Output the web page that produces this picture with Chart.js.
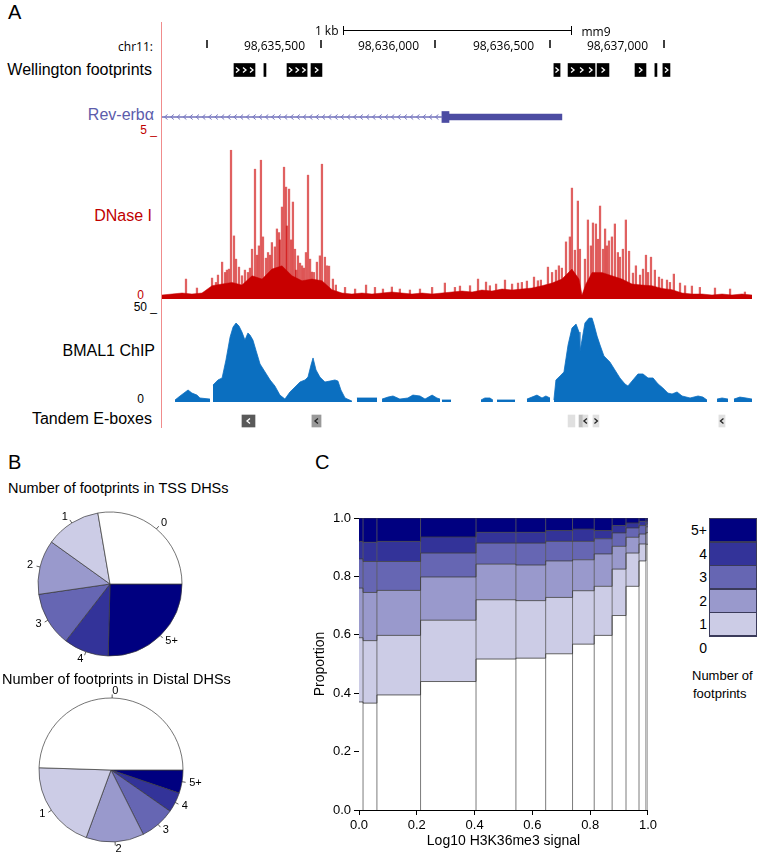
<!DOCTYPE html>
<html><head><meta charset="utf-8">
<script src="https://cdn.jsdelivr.net/npm/chart.js@4.4.1/dist/chart.umd.min.js"></script>
<style>
html,body{margin:0;padding:0;background:#fff}
body{position:relative;width:759px;height:855px;overflow:hidden;font-family:"Liberation Sans",Arial,Helvetica,sans-serif;color:#000}
.t{position:absolute;white-space:nowrap;line-height:1;transform:translateY(-50%)}
.box{position:absolute;box-sizing:border-box}
canvas{position:absolute;display:block}
</style></head><body>
<!-- Panel A labels -->
<div class="t" style="left:8px;top:12px;font-size:20px">A</div>
<div class="t" style="right:606px;top:47px;font-family:'Open Sans';font-size:12px">chr11:</div>
<div class="t" style="right:607px;top:70px;font-size:16px">Wellington footprints</div>
<div class="t" style="right:605px;top:115px;font-size:16px;color:#5c5cab">Rev-erbα</div>
<div class="t" style="right:602px;top:130px;font-size:12px;color:#c00000">5 _</div>
<div class="t" style="right:607px;top:216px;font-size:16px;color:#c00000">DNase I</div>
<div class="t" style="right:615px;top:295px;font-size:12px;color:#c00000">0</div>
<div class="t" style="right:602px;top:307px;font-size:12px">50 _</div>
<div class="t" style="right:604px;top:351px;font-size:16px">BMAL1 ChIP</div>
<div class="t" style="right:615px;top:399px;font-size:12px">0</div>
<div class="t" style="right:607px;top:419px;font-size:16px">Tandem E-boxes</div>
<div class="box" style="left:161px;top:22px;width:1px;height:406px;background:#f08c8c"></div>

<canvas id="cRuler" width="590" height="36" style="left:162px;top:20px"></canvas>
<canvas id="cFoot" width="590" height="20" style="left:162px;top:60px"></canvas>
<canvas id="cGene" width="590" height="24" style="left:162px;top:105px"></canvas>
<canvas id="cDnase" width="590" height="166" style="left:162px;top:133px"></canvas>
<canvas id="cBmal" width="590" height="91" style="left:162px;top:311px"></canvas>
<canvas id="cEbox" width="590" height="22" style="left:162px;top:410px"></canvas>

<!-- Panel B -->
<div class="t" style="left:8px;top:462px;font-size:20px">B</div>
<div class="t" style="left:8px;top:488px;font-size:14.5px">Number of footprints in TSS DHSs</div>
<canvas id="cPie1" width="200" height="176" style="left:10px;top:500px"></canvas>
<div class="t" style="left:2px;top:679px;font-size:14.5px">Number of footprints in Distal DHSs</div>
<canvas id="cPie2" width="200" height="176" style="left:11px;top:686px"></canvas>

<!-- Panel C -->
<div class="t" style="left:315px;top:462px;font-size:20px">C</div>
<canvas id="cMosaic" width="360" height="355" style="left:300px;top:500px"></canvas>
<div id="legendC"></div>
<div class="t" style="left:692px;top:675px;font-size:13px">Number of</div>
<div class="t" style="left:693px;top:693px;font-size:13px">footprints</div>

<script>
// ================= DATA =================
// Panel A: genomic window (mm9 chr11), positions stored as bp offsets from regionStart
const regionStart = 98634804;
const regionLength = 2582;
const rulerTicks = [98635000, 98635500, 98636000, 98636500, 98637000];
const rulerTickLabels = ['', '98,635,500', '98,636,000', '98,636,500', '98,637,000'];
const scaleBarStart = 792;
const scaleBarLength = 1000;
const scaleBarLabel = '1 kb';
const assemblyLabel = 'mm9';

const footprintStart = [315, 446, 547, 652, 1715, 1777, 1904, 2070, 2157, 2192];
const footprintEnd   = [407, 455, 635, 700, 1742, 1895, 1956, 2118, 2166, 2223];

const geneIntron = [0, 1225];
const geneCds = [1225, 1256];
const geneUtr = [1256, 1750];

const dnaseBasePos = [0,44,88,131,175,219,263,306,350,394,438,481,525,569,613,656,700,744,788,831,875,919,963,1006,1050,1094,1138,1182,1225,1269,1313,1357,1400,1444,1488,1532,1575,1619,1663,1707,1750,1794,1825,1838,1855,1882,1925,1969,2013,2057,2100,2144,2188,2232,2276,2319,2363,2407,2451,2494,2538,2582];
const dnaseBaseVal = [0.12,0.15,0.18,0.15,0.18,0.40,0.45,0.50,0.42,0.70,0.60,0.90,1.00,0.70,0.55,0.60,0.55,0.28,0.18,0.15,0.18,0.15,0.18,0.21,0.18,0.15,0.18,0.15,0.18,0.21,0.24,0.21,0.27,0.24,0.30,0.27,0.30,0.33,0.40,0.48,0.60,0.90,0.60,0.12,0.45,0.80,0.80,0.70,0.60,0.45,0.42,0.40,0.32,0.28,0.18,0.15,0.15,0.12,0.15,0.12,0.15,0.12];
const dnasePeakPos = [105,153,219,236,245,263,276,284,293,302,315,324,337,350,363,376,385,394,407,416,424,433,442,455,464,473,481,494,503,512,516,525,534,543,547,556,565,573,582,587,595,604,613,621,630,639,648,656,665,678,691,700,713,722,731,748,761,801,845,893,932,967,1006,1041,1085,1129,1182,
  1238,1282,1304,1348,1383,1418,1435,1462,1501,1532,1558,1575,1597,1628,1645,1658,1689,1707,1724,1737,1750,1768,1785,1794,1807,1820,1829,1851,1864,1877,1886,1899,1908,1917,1930,1939,1947,1956,1969,1982,1995,2004,2017,2030,2044,2061,2074,2092,2105,2118,2127,2140,2157,2175,2188,2210,2223,2240,2267,2289,2319,2354,2420,2486,2551];
const dnasePeakVal = [0.60,0.33,0.63,0.50,0.72,1.11,0.80,0.87,0.90,4.48,1.90,1.20,0.96,0.70,0.87,0.80,0.93,1.50,3.91,1.32,1.60,4.18,1.87,1.23,1.40,1.32,1.70,1.57,2.11,2.00,1.78,2.77,3.97,3.37,2.20,3.31,1.78,2.92,1.50,0.87,1.30,1.08,1.00,0.93,1.40,3.73,1.20,0.81,0.80,1.11,1.30,4.06,1.26,1.00,0.99,0.60,0.42,0.35,0.30,0.42,0.35,0.30,0.36,0.30,0.27,0.30,0.35,
  0.48,0.35,0.39,0.40,0.60,0.51,0.40,0.45,0.57,0.45,0.48,0.50,0.54,0.66,0.55,0.57,0.96,0.80,0.87,1.00,0.93,1.72,1.87,3.34,1.47,2.95,1.50,1.20,2.38,1.60,2.29,2.26,1.80,2.80,1.50,2.11,1.60,1.75,1.87,2.26,1.40,1.26,1.50,2.38,1.44,0.78,1.00,0.72,0.90,1.32,0.80,1.26,0.87,0.66,0.60,0.57,0.50,0.75,0.48,0.40,0.39,0.35,0.33,0.30,0.21];

// BMAL1 ChIP signal (null = no data)
const bmalPos = [57,79,114,131,153,166,210, 216,
  223,245,263,280,298,311,324,337,350,363,376,385,398,411,429,451,473,494,516,538,560,582,604,626,639,652,661,674,691,713,735,757,770,783,801,831, 842,
  853,941, 952,
  963,989,1011,1041,1076,1098,1129,1151,1182,1203,1217, 1221,
  1225,1265, 1330,
  1396,1413,1435,1448, 1457,
  1466,1545, 1570,
  1597,1619,1641,1663,1680,1698, 1706,
  1715,1724,1742,1759,1777,1794,1812,1825,1829,1838,1851,1869,1882,1890,1904,1917,1934,1960,1982,2004,2026,2039,2061,2083,2105,2127,2149,2171,2192,2214,2232,2254,2276,2311,2346,2367,2385, 2400,
  2429,2451,2477, 2490,
  2503,2529,2556,2582];
const bmalVal = [1.1,3.3,6.6,4.9,3.8,2.2,1.6, null,
  9.3,12.1,13.2,23.1,35.7,41.2,43.4,41.7,38.4,34.0,37.9,36.8,34.0,28.5,20.9,16.5,12.1,8.8,3.8,1.6,5.5,8.2,11.0,12.1,13.7,20.3,24.2,17.6,13.7,11.0,11.5,12.1,11.5,6.6,2.2,0.5, null,
  2.2,2.2, null,
  1.6,2.7,3.3,1.6,2.2,3.8,3.3,1.6,3.8,2.2,1.6, null,
  1.1,1.1, null,
  1.1,2.2,2.2,1.1, null,
  1.1,1.1, null,
  1.6,2.7,3.8,2.2,3.3,2.2, null,
  1.1,12.1,14.3,16.5,31.3,40.6,42.8,38.4,27.5,34.0,43.4,46.1,46.1,42.8,36.2,31.3,25.3,22.0,17.6,13.2,9.9,8.8,12.1,15.4,15.4,13.2,13.2,9.9,7.7,4.9,4.4,5.5,3.3,2.2,3.3,2.7,1.1, null,
  1.6,2.2,1.6, null,
  1.6,2.7,2.2,1.6];

const eboxStart  = [350, 656, 1777, 1825, 1842, 1886, 2437];
const eboxEnd    = [407, 696, 1807, 1842, 1864, 1912, 2464];
const eboxStrand = ['-', '-', '', '', '-', '+', '-'];
const eboxShade  = [0.65, 0.40, 0.12, 0.25, 0.12, 0.12, 0.12];

// Panel B: share of DHSs (%) by number of footprints, classes 0,1,2,3,4,5+
const footprintClasses = ['0', '1', '2', '3', '4', '5+'];
const footprintColors = ['#FFFFFF', '#CCCCE6', '#9999CC', '#6666B3', '#333399', '#000080'];
const tssShares = [27.7, 12.4, 12.2, 12.2, 10.1, 25.4];
const distalShares = [49.5, 19.9, 13.0, 7.9, 4.5, 5.2];

// Panel C: spineplot columns (cumulative x breaks) and per-class proportions
const colBreaks = [0, 0.014, 0.062, 0.213, 0.405, 0.543, 0.646, 0.739, 0.814, 0.876, 0.924, 0.969, 0.993, 1.0];
const share0     = [.370,.366,.394,.440,.517,.520,.535,.568,.598,.666,.766,.853,.910];
const share1     = [.220,.214,.204,.210,.203,.197,.193,.183,.168,.159,.114,.058,.040];
const share2     = [.170,.165,.154,.148,.122,.122,.125,.106,.111,.078,.054,.034,.020];
const share3     = [.100,.106,.099,.082,.072,.075,.067,.063,.052,.046,.032,.029,.010];
const share4     = [.060,.066,.069,.055,.037,.037,.037,.042,.028,.025,.017,.015,.010];
const share5plus = [.080,.083,.080,.065,.049,.049,.043,.038,.043,.026,.017,.011,.010];
const yAxisTitle = 'Proportion';
const xAxisTitle = 'Log10 H3K36me3 signal';

// ================= CHARTS =================
const F = '"Liberation Sans", Arial, Helvetica, sans-serif';
Chart.defaults.font.family = F;
const at = o => regionStart + o;
const base = { responsive:false, animation:false, events:[], plugins:{legend:{display:false}, tooltip:{enabled:false}} };
const trackScales = y => ({ x:{type:'linear', min:regionStart, max:regionStart+regionLength, display:false, offset:false}, y });

// ruler
const rulerPlugin = { id:'ruler', afterDraw(chart){
  const ctx = chart.ctx, xs = chart.scales.x;
  ctx.save(); ctx.strokeStyle = '#000'; ctx.fillStyle = '#000'; ctx.lineWidth = 1;
  const b1 = Math.round(xs.getPixelForValue(at(scaleBarStart))) + 0.5;
  const b2 = Math.round(xs.getPixelForValue(at(scaleBarStart + scaleBarLength))) + 0.5;
  ctx.beginPath(); ctx.moveTo(b1,10.5); ctx.lineTo(b2,10.5);
  ctx.moveTo(b1,6); ctx.lineTo(b1,15); ctx.moveTo(b2,6); ctx.lineTo(b2,15); ctx.stroke();
  ctx.font = '12px "Open Sans", "DejaVu Sans", sans-serif'; ctx.textBaseline = 'middle';
  ctx.textAlign = 'right'; ctx.fillText(scaleBarLabel, b1 - 5, 12);
  ctx.textAlign = 'left'; ctx.fillText(assemblyLabel, b2 + 10, 13);
  ctx.lineWidth = 1.5;
  rulerTicks.forEach((t,i) => {
    const px = Math.round(xs.getPixelForValue(t));
    ctx.beginPath(); ctx.moveTo(px,20); ctx.lineTo(px,28); ctx.stroke();
    if (rulerTickLabels[i]) { ctx.textAlign = 'right'; ctx.fillText(rulerTickLabels[i], px - 16, 27); }
  });
  ctx.restore();
}};
new Chart(document.getElementById('cRuler'), {
  type:'scatter', data:{datasets:[]},
  options:{...base, layout:{padding:0}, scales: trackScales({display:false, min:0, max:1})},
  plugins:[rulerPlugin]
});

function barProps(el){ const p = el.getProps(['x','base','y','height'], true); return {l:Math.min(p.x,p.base), r:Math.max(p.x,p.base), y:p.y}; }
function drawChevron(ctx, cx, y, dir, h){
  ctx.beginPath();
  ctx.moveTo(cx - dir*1.5, y - h); ctx.lineTo(cx + dir*1.5, y); ctx.lineTo(cx - dir*1.5, y + h);
  ctx.stroke();
}

// footprints
const footChevrons = { id:'footChev', afterDatasetsDraw(chart){
  const ctx = chart.ctx; ctx.save(); ctx.strokeStyle = '#fff'; ctx.lineWidth = 1.3;
  chart.getDatasetMeta(0).data.forEach(el => {
    const {l, r, y} = barProps(el); const w = r - l; if (w < 5) return;
    const n = Math.max(1, Math.round(w/8)), step = w/n;
    for (let k = 0; k < n; k++) drawChevron(ctx, l + step*(k+0.5), y, 1, 2.5);
  });
  ctx.restore();
}};
new Chart(document.getElementById('cFoot'), {
  type:'bar',
  data:{ labels:['fp'], datasets:[{ data: footprintStart.map((s,i) => ({x:[at(s), at(footprintEnd[i])], y:'fp'})),
    backgroundColor:'#000', barThickness:13, grouped:false, borderWidth:0 }]},
  options:{...base, indexAxis:'y', layout:{padding:0}, scales: trackScales({type:'category', display:false, offset:true})},
  plugins:[footChevrons]
});

// gene model
const geneChevrons = { id:'geneChev', afterDatasetsDraw(chart){
  const ctx = chart.ctx; ctx.save(); ctx.strokeStyle = '#7878c0'; ctx.lineWidth = 1;
  const {l, r, y} = barProps(chart.getDatasetMeta(0).data[0]);
  for (let cx = l + 4; cx < r - 2; cx += 6.3) drawChevron(ctx, cx, y, -1, 2.5);
  ctx.restore();
}};
new Chart(document.getElementById('cGene'), {
  type:'bar',
  data:{ labels:['g'], datasets:[
    { data:[{x:[at(geneIntron[0]), at(geneIntron[1])], y:'g'}], backgroundColor:'#7070bb', barThickness:1, grouped:false, borderWidth:0 },
    { data:[{x:[at(geneCds[0]), at(geneCds[1])], y:'g'}], backgroundColor:'#4c4ca2', barThickness:11, grouped:false, borderWidth:0 },
    { data:[{x:[at(geneUtr[0]), at(geneUtr[1])], y:'g'}], backgroundColor:'#4c4ca2', barThickness:6, grouped:false, borderWidth:0 }
  ]},
  options:{...base, indexAxis:'y', layout:{padding:0}, scales: trackScales({type:'category', display:false, offset:true})},
  plugins:[geneChevrons]
});

// DNase I
new Chart(document.getElementById('cDnase'), {
  type:'bar',
  data:{ datasets:[
    { type:'line', data: dnaseBasePos.map((p,i) => ({x:at(p), y:dnaseBaseVal[i]})), fill:'origin',
      backgroundColor:'#c80000', borderColor:'#c80000', borderWidth:0.5, pointRadius:0, tension:0, order:1 },
    { type:'bar', data: dnasePeakPos.map((p,i) => ({x:at(p), y:dnasePeakVal[i]})),
      backgroundColor:'rgba(205,0,0,0.62)', barThickness:1.6, grouped:false, borderWidth:0, order:2 }
  ]},
  options:{...base, layout:{padding:0}, scales: trackScales({type:'linear', min:0, max:5, display:false})}
});

// BMAL1 ChIP
new Chart(document.getElementById('cBmal'), {
  type:'line',
  data:{ datasets:[{ data: bmalPos.map((p,i) => ({x:at(p), y:bmalVal[i]})), fill:'origin', spanGaps:false,
    backgroundColor:'#0b6fc0', borderColor:'#0b6fc0', borderWidth:0.8, pointRadius:0, tension:0 }]},
  options:{...base, layout:{padding:0}, scales: trackScales({type:'linear', min:0, max:50, display:false})}
});

// Tandem E-boxes
const eboxChevrons = { id:'eboxChev', afterDatasetsDraw(chart){
  const ctx = chart.ctx; ctx.save(); ctx.lineWidth = 1.3;
  chart.getDatasetMeta(0).data.forEach((el,i) => {
    if (!eboxStrand[i]) return;
    const {l, r, y} = barProps(el);
    ctx.strokeStyle = eboxShade[i] > 0.5 ? '#fff' : '#222';
    drawChevron(ctx, (l + r)/2, y, eboxStrand[i] === '+' ? 1 : -1, 2.5);
  });
  ctx.restore();
}};
new Chart(document.getElementById('cEbox'), {
  type:'bar',
  data:{ labels:['e'], datasets:[{ data: eboxStart.map((s,i) => ({x:[at(s), at(eboxEnd[i])], y:'e'})),
    backgroundColor: eboxShade.map(s => { const v = Math.round(255*(1-s)); return `rgb(${v},${v},${v})`; }),
    barThickness:12, grouped:false, borderWidth:0 }]},
  options:{...base, indexAxis:'y', layout:{padding:0}, scales: trackScales({type:'category', display:false, offset:true})},
  plugins:[eboxChevrons]
});

// Panel B pies (R-style: counter-clockwise from 3 o'clock)
const pieLabelPlugin = { id:'pieLabels', afterDatasetsDraw(chart){
  const ctx = chart.ctx, labels = chart.data.labels;
  ctx.save(); ctx.font = '11px ' + F; ctx.fillStyle = '#000'; ctx.strokeStyle = '#333'; ctx.lineWidth = 0.8;
  chart.getDatasetMeta(0).data.forEach((arc,i) => {
    const {x, y, startAngle, endAngle, outerRadius:r} = arc.getProps(['x','y','startAngle','endAngle','outerRadius'], true);
    const a = (startAngle + endAngle)/2, c = Math.cos(a), s = Math.sin(a);
    ctx.beginPath(); ctx.moveTo(x + c*r, y + s*r); ctx.lineTo(x + c*r*1.05, y + s*r*1.05); ctx.stroke();
    ctx.textAlign = c > 0 ? 'left' : 'right'; ctx.textBaseline = 'middle';
    ctx.fillText(labels[i], x + c*r*1.1, y + s*r*1.1);
  });
  ctx.restore();
}};
function makePie(id, shares){
  new Chart(document.getElementById(id), {
    type:'pie',
    data:{ labels: footprintClasses.slice().reverse(),
      datasets:[{ data: shares.slice().reverse(), backgroundColor: footprintColors.slice().reverse(),
        borderColor:'#3a3a3a', borderWidth:0.7 }]},
    options:{...base, rotation:90, radius:72, layout:{padding:{left:28, right:28, top:12, bottom:20}}},
    plugins:[pieLabelPlugin]
  });
}
makePie('cPie1', tssShares);
makePie('cPie2', distalShares);

// Panel C spineplot
const nCols = colBreaks.length - 1;
const shareRows = [share0, share1, share2, share3, share4, share5plus];
const cumRows = []; let run = new Array(nCols).fill(0);
shareRows.forEach(row => { run = run.map((v,i) => v + row[i]); cumRows.push(run); });
const mosaicSets = cumRows.map((c,k) => ({
  type:'line', data: colBreaks.map((b,i) => ({x:b, y:Math.min(1, c[Math.min(i, nCols-1)])})),
  stepped:true, fill: k === 0 ? 'origin' : '-1', backgroundColor: footprintColors[k],
  borderColor:'#3c3c3c', borderWidth:0.8, pointRadius:0, tension:0
}));
mosaicSets.push({ type:'line', data: colBreaks.slice(1).flatMap(b => [{x:b,y:0},{x:b,y:1},{x:b,y:null}]),
  borderColor:'#5a5a5a', borderWidth:0.8, pointRadius:0, fill:false, spanGaps:false });
const axisCommon = {
  type:'linear', min:0, max:1, offset:false,
  ticks:{stepSize:0.2, callback:v => v.toFixed(1), font:{family:F, size:13}, color:'#000', padding:3, maxRotation:0, autoSkip:false},
  grid:{display:true, drawOnChartArea:false, drawTicks:true, tickLength:5, color:'#000', tickColor:'#000'},
  border:{display:true, color:'#000', width:1}
};
new Chart(document.getElementById('cMosaic'), {
  type:'line',
  data:{ datasets: mosaicSets },
  options:{ responsive:false, animation:false, events:[],
    layout:{padding:{left:0, right:10, top:18, bottom:0}},
    plugins:{legend:{display:false}, tooltip:{enabled:false}, filler:{drawTime:'beforeDatasetsDraw'}},
    scales:{
      x:{...axisCommon, afterFit:s => { s.height = 45; },
         title:{display:true, text:xAxisTitle, font:{family:F, size:14}, color:'#000', padding:{top:0, bottom:5}}},
      y:{...axisCommon, afterFit:s => { s.width = 59; },
         title:{display:true, text:yAxisTitle, font:{family:F, size:14}, color:'#000', padding:{top:12, bottom:0}}}
    }
  }
});

// Panel C legend
const leg = document.getElementById('legendC');
footprintClasses.slice().reverse().forEach((lab, j) => {
  const k = footprintClasses.length - 1 - j;
  const top = 518 + j*23.6;
  const b = document.createElement('div');
  b.className = 'box';
  b.style.cssText = `left:709px;top:${top}px;width:48px;height:24px;background:${footprintColors[k]};` +
    (k > 0 ? 'border:1px solid #3a3a5a;' : 'border-top:1px solid #3a3a5a;');
  leg.appendChild(b);
  const t = document.createElement('div');
  t.className = 't';
  t.style.cssText = `right:52px;top:${top + 12}px;font-size:14px`;
  t.textContent = lab;
  leg.appendChild(t);
});
</script>
</body></html>
